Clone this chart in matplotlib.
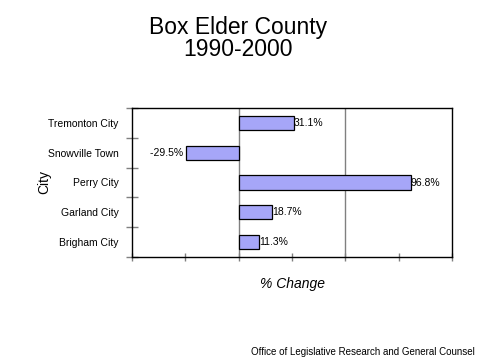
import matplotlib
matplotlib.use('Agg')
import matplotlib.pyplot as plt

plt.rcParams['font.family'] = ['Liberation Sans', 'DejaVu Sans']

# data (bottom to top)
cities = ['Brigham City', 'Garland City', 'Perry City', 'Snowville Town', 'Tremonton City']
pct_change = [11.3, 18.7, 96.8, -29.5, 31.1]

fig = plt.figure(figsize=(4.8, 3.6), dpi=100)
ax = fig.add_axes([132/480, 1 - 257/360, 320/480, 149/360])

pos = list(range(len(cities)))
ax.barh(pos, pct_change, height=0.48, color='#A6A6F8', edgecolor='black', linewidth=0.9, zorder=3)

for y, v in zip(pos, pct_change):
    if v >= 0:
        ax.text(v, y, f'{v:.1f}%', ha='left', va='center', fontsize=7.5, zorder=4)
    else:
        ax.text(v, y, f'{v:.1f}% ', ha='right', va='center', fontsize=7.5, zorder=4)

ax.set_xlim(-60, 120)
ax.set_ylim(-0.5, len(cities) - 0.5)

# gridlines at major units, ticks every 30
for gx in [0, 60]:
    ax.axvline(gx, color='#808080', linewidth=1, zorder=1)
ax.set_xticks(range(-60, 121, 30))
ax.set_xticklabels([])
ax.tick_params(axis='x', direction='inout', length=6, color='#808080', width=1)

# category boundary ticks, labels at centers
ax.set_yticks([p - 0.5 for p in pos] + [len(cities) - 0.5])
ax.set_yticklabels([])
ax.tick_params(axis='y', which='major', direction='inout', length=8, color='#808080', width=1)
ax.set_yticks(pos, minor=True)
ax.set_yticklabels(cities, minor=True, fontsize=7.5)
ax.tick_params(axis='y', which='minor', length=0, pad=9.5)

for s in ax.spines.values():
    s.set_color('black')
    s.set_linewidth(1)

ax.set_xlabel('% Change', fontsize=10, style='italic', labelpad=8)
ax.set_ylabel('City', fontsize=10, labelpad=-2)

fig.text(0.495, 0.893, 'Box Elder County\n1990-2000', ha='center', va='center',
         fontsize=16.5, linespacing=0.95)
fig.text(0.99, 0.022, 'Office of Legislative Research and General Counsel',
         ha='right', va='center', fontsize=7)

fig.savefig('out.png', dpi=100)
